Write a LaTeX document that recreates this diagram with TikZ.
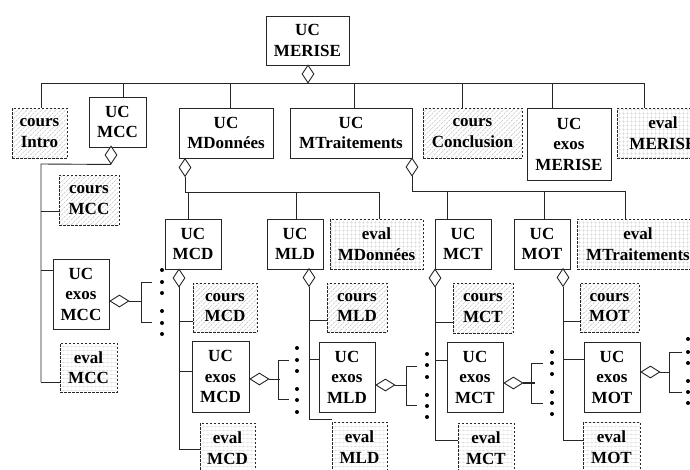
\documentclass[tikz,border=0pt]{standalone}
\usepackage{fontspec}
\setmainfont{Liberation Serif}
\usetikzlibrary{shapes.geometric,patterns.meta}
\tikzset{
  lbl/.style={font=\fontsize{17}{20.5}\selectfont\bfseries, align=center, inner sep=0pt, line width=0.9pt, draw=black!85},
  ucbox/.style={lbl, fill=white},
  coursbox/.style={lbl, dash pattern=on 2.5pt off 1.5pt, preaction={fill=white}, pattern={Lines[angle=45,distance=3.4pt,line width=0.35pt]}, pattern color=gray!60},
  evalbox/.style={lbl, dash pattern=on 2.5pt off 1.5pt, preaction={fill=white}, pattern={Hatch[angle=0,distance=4pt,line width=0.3pt]}, pattern color=gray!45},
  conn/.style={draw=black!85, line width=0.9pt},
  vdia/.style={shape=diamond, draw=black!85, fill=white, line width=0.9pt, inner sep=0pt, minimum width=12pt, minimum height=18pt},
  hdia/.style={shape=diamond, draw=black!85, fill=white, line width=0.9pt, inner sep=0pt, minimum width=19pt, minimum height=12pt},
}
\newcommand\mystub[2]{\draw[conn] (#1) -- (#1 -| #2.west);}
\begin{document}
\begin{tikzpicture}[x=1pt,y=-1pt]
\useasboundingbox (0,0) rectangle (690,469);
% ---------- level 0 ----------
\node[ucbox, minimum width=83pt, minimum height=49pt] (merise) at (307.5,40.5) {UC\\MERISE};
% ---------- level 1 ----------
\node[coursbox, minimum width=55pt, minimum height=50pt] (intro) at (39.5,133) {cours\\Intro};
\node[ucbox, minimum width=57pt, minimum height=50pt] (mcc) at (117.5,122) {UC\\MCC};
\node[ucbox, minimum width=94pt, minimum height=50pt] (mdon) at (226,133) {UC\\MDonnées};
\node[ucbox, minimum width=122pt, minimum height=50pt] (mtr) at (351,133) {UC\\MTraitements};
\node[coursbox, minimum width=99pt, minimum height=50pt] (concl) at (472.5,133) {cours\\Conclusion};
\node[ucbox, minimum width=84pt, minimum height=72pt] (exm) at (569,144) {UC\\exos\\MERISE};
\node[evalbox, minimum width=92pt, minimum height=50pt] (evm) at (663,133) {eval\\MERISE};
% ---------- MCC children ----------
\node[coursbox, minimum width=60pt, minimum height=50pt] (coursmcc) at (89,200) {cours\\MCC};
\node[ucbox, minimum width=56pt, minimum height=70pt] (exosmcc) at (81,294) {UC\\exos\\MCC};
\node[evalbox, minimum width=57pt, minimum height=49pt] (evalmcc) at (88.5,367.5) {eval\\MCC};
% ---------- level 2 ----------
\node[ucbox, minimum width=56pt, minimum height=50pt] (mcd) at (193,244) {UC\\MCD};
\node[ucbox, minimum width=56pt, minimum height=50pt] (mld) at (295,244) {UC\\MLD};
\node[evalbox, minimum width=93pt, minimum height=50pt] (evmd) at (376.5,244) {eval\\MDonnées};
\node[ucbox, minimum width=56pt, minimum height=50pt] (mct) at (463,244) {UC\\MCT};
\node[ucbox, minimum width=56pt, minimum height=50pt] (mot) at (542,244) {UC\\MOT};
\node[evalbox, minimum width=122pt, minimum height=50pt] (evmt) at (638,244) {eval\\MTraitements};
% ---------- level 3 ----------
\node[coursbox, minimum width=64pt, minimum height=49pt] (coursmcd) at (225,307.5) {cours\\MCD};
\node[ucbox, minimum width=57pt, minimum height=71pt] (exosmcd) at (220.5,376.5) {UC\\exos\\MCD};
\node[evalbox, minimum width=55pt, minimum height=50pt] (evalmcd) at (227.5,448) {eval\\MCD};
\node[coursbox, minimum width=60pt, minimum height=49pt] (coursmld) at (357,307.5) {cours\\MLD};
\node[ucbox, minimum width=56pt, minimum height=70pt] (exosmld) at (347,377) {UC\\exos\\MLD};
\node[evalbox, minimum width=55pt, minimum height=50pt] (evalmld) at (359.5,447) {eval\\MLD};
\node[coursbox, minimum width=60pt, minimum height=50pt] (coursmct) at (483,308) {cours\\MCT};
\node[ucbox, minimum width=56pt, minimum height=70pt] (exosmct) at (475,377) {UC\\exos\\MCT};
\node[evalbox, minimum width=56pt, minimum height=50pt] (evalmct) at (486,448) {eval\\MCT};
\node[coursbox, minimum width=59pt, minimum height=49pt] (coursmot) at (609.5,307.5) {cours\\MOT};
\node[ucbox, minimum width=56pt, minimum height=70pt] (exosmot) at (612,377) {UC\\exos\\MOT};
\node[evalbox, minimum width=57pt, minimum height=50pt] (evalmot) at (611.5,447) {eval\\MOT};
% ---------- top bus ----------
\node[vdia] (d0) at (308,74) {};
\coordinate (b0l) at (41,83); \coordinate (b0r) at (644,83);
\draw[conn] (b0l) -- (b0r);
\coordinate (t1) at (41,83);  \coordinate (t2) at (123,83); \coordinate (t3) at (230,83);
\coordinate (t4) at (354,83); \coordinate (t5) at (462,83); \coordinate (t6) at (552,83);
\coordinate (t7) at (644,83);
\foreach \t/\n in {t1/intro,t2/mcc,t3/mdon,t4/mtr,t5/concl,t6/exm,t7/evm}
  \draw[conn] (\t) -- (\t |- \n.north);
% ---------- MCC subtree ----------
\node[vdia] (dmcc) at (111,155) {};
\coordinate (vmcc) at (41,164);
\coordinate (sa1) at (41,211); \coordinate (sa2) at (41,270); \coordinate (sa3) at (41,382);
\draw[conn] (dmcc.south) -- (vmcc) -- (sa3);
\mystub{sa1}{coursmcc} \mystub{sa2}{exosmcc} \mystub{sa3}{evalmcc}
% ---------- MDonnees bus ----------
\node[vdia] (dmdon) at (185,167.5) {};
\coordinate (b1l) at (185,192); \coordinate (b1r) at (379,192);
\draw[conn] (dmdon.south) -- (b1l) -- (b1r);
\coordinate (u1) at (188,192); \coordinate (u2) at (296,192); \coordinate (u3) at (379,192);
\foreach \t/\n in {u1/mcd,u2/mld,u3/evmd}
  \draw[conn] (\t) -- (\t |- \n.north);
% ---------- MTraitements bus ----------
\node[vdia] (dmtr) at (412,167) {};
\coordinate (b2l) at (412,191); \coordinate (b2r) at (625,191);
\draw[conn] (dmtr.south) -- (b2l) -- (b2r);
\coordinate (w1) at (447,191); \coordinate (w2) at (544,191); \coordinate (w3) at (625,191);
\foreach \t/\n in {w1/mct,w2/mot,w3/evmt}
  \draw[conn] (\t) -- (\t |- \n.north);
% ---------- MCD subtree ----------
\node[vdia] (dmcd) at (179,278) {};
\coordinate (sb1) at (179,321); \coordinate (sb2) at (179,371); \coordinate (sb3) at (179,449);
\draw[conn] (dmcd.south) -- (sb3);
\mystub{sb1}{coursmcd} \mystub{sb2}{exosmcd} \mystub{sb3}{evalmcd}
% ---------- MLD subtree ----------
\node[vdia] (dmld) at (309,277.5) {};
\coordinate (sc1) at (309,320); \coordinate (sc2) at (309,359); \coordinate (sc3) at (309,419);
\draw[conn] (dmld.south) -- (sc3);
\mystub{sc1}{coursmld} \mystub{sc2}{exosmld} \mystub{sc3}{evalmld}
% ---------- MCT subtree ----------
\node[vdia] (dmct) at (435,278) {};
\coordinate (sd1) at (435,322); \coordinate (sd2) at (435,360); \coordinate (sd3) at (435,440);
\draw[conn] (dmct.south) -- (sd3);
\mystub{sd1}{coursmct} \mystub{sd2}{exosmct} \mystub{sd3}{evalmct}
% ---------- MOT subtree ----------
\node[vdia] (dmot) at (563,277.5) {};
\coordinate (se1) at (563,321); \coordinate (se2) at (563,359); \coordinate (se3) at (563,440);
\draw[conn] (dmot.south) -- (se3);
\mystub{se1}{coursmot} \mystub{se2}{exosmot} \mystub{se3}{evalmot}
% ---------- exos brackets ----------
\node[hdia, anchor=west] (hmcc) at (exosmcc.east |- 0,301) {};
\draw[conn] (hmcc.east) -- ++(13,0);
\draw[conn] (152,282) -| (141,322) -- (152,322);
\foreach \y in {270,282,293,311,323,334} \fill (162,\y) circle (2pt);
\node[hdia, anchor=west] (hmcd) at (exosmcd.east |- 0,379) {};
\draw[conn] (hmcd.east) -- ++(11,0);
\draw[conn] (289,360) -| (278,399) -- (289,399);
\foreach \y in {348,360,371,389,400,412} \fill (297,\y) circle (2pt);
\node[hdia, anchor=west] (hmld) at (exosmld.east |- 0,385) {};
\draw[conn] (hmld.east) -- ++(12,0);
\draw[conn] (417,366) -| (406,405) -- (417,405);
\foreach \y in {354,365,377,395,406,417} \fill (427,\y) circle (2pt);
\node[hdia, anchor=west] (hmct) at (exosmct.east |- 0,383) {};
\draw[conn, line width=1.8pt] (hmct.east) -- ++(12,0);
\draw[conn] (543,363) -| (531,403) -- (543,403);
\foreach \y in {352,363,374,392,403,414} \fill (552,\y) circle (2pt);
\node[hdia, anchor=west] (hmot) at (exosmot.east |- 0,372) {};
\draw[conn] (hmot.east) -- ++(10,0);
\draw[conn] (682,352) -| (669,392) -- (682,392);
\foreach \y in {339,352,363,381,392,403} \fill (688,\y) circle (2pt);
\end{tikzpicture}
\end{document}
